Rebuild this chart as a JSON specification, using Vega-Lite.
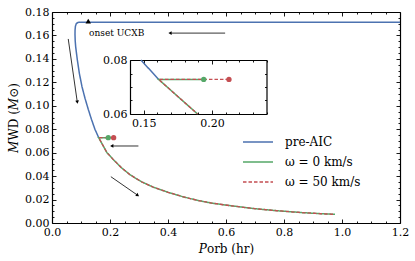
{
  "$schema": "https://vega.github.io/schema/vega-lite/v6.json",
  "width": 348,
  "height": 211,
  "autosize": "none",
  "padding": {"left": 52, "top": 12, "right": 15, "bottom": 38},
  "config": {
    "view": {"stroke": null},
    "font": "DejaVu Serif",
    "axis": {
      "grid": false,
      "labelFont": "DejaVu Serif",
      "titleFont": "DejaVu Serif",
      "labelFontSize": 11,
      "labelColor": "black",
      "titleColor": "black",
      "tickColor": "black",
      "domainColor": "black",
      "domainWidth": 1.2,
      "tickWidth": 0.9,
      "labelFlush": false,
      "labelOverlap": false,
      "labelBound": false,
      "titleFontWeight": "normal",
      "titleFontSize": 12
    }
  },
  "datasets": {
    "curves": [
      {"s": "pre-AIC", "i": 0, "p": 1.2, "m": 0.1713},
      {"s": "pre-AIC", "i": 1, "p": 0.6, "m": 0.1713},
      {"s": "pre-AIC", "i": 2, "p": 0.1, "m": 0.1713},
      {"s": "pre-AIC", "i": 3, "p": 0.09, "m": 0.1711},
      {"s": "pre-AIC", "i": 4, "p": 0.084, "m": 0.1702},
      {"s": "pre-AIC", "i": 5, "p": 0.0808, "m": 0.168},
      {"s": "pre-AIC", "i": 6, "p": 0.0795, "m": 0.1645},
      {"s": "pre-AIC", "i": 7, "p": 0.0793, "m": 0.161},
      {"s": "pre-AIC", "i": 8, "p": 0.08, "m": 0.1555},
      {"s": "pre-AIC", "i": 9, "p": 0.0816, "m": 0.1505},
      {"s": "pre-AIC", "i": 10, "p": 0.0874, "m": 0.139},
      {"s": "pre-AIC", "i": 11, "p": 0.0943, "m": 0.1277},
      {"s": "pre-AIC", "i": 12, "p": 0.1034, "m": 0.1163},
      {"s": "pre-AIC", "i": 13, "p": 0.1138, "m": 0.1064},
      {"s": "pre-AIC", "i": 14, "p": 0.125, "m": 0.097},
      {"s": "pre-AIC", "i": 15, "p": 0.136, "m": 0.0885},
      {"s": "pre-AIC", "i": 16, "p": 0.148, "m": 0.08},
      {"s": "pre-AIC", "i": 17, "p": 0.161, "m": 0.0728},
      {"s": "ω = 0 km/s", "i": 0, "p": 0.194, "m": 0.0728},
      {"s": "ω = 0 km/s", "i": 1, "p": 0.161, "m": 0.0728},
      {"s": "ω = 0 km/s", "i": 2, "p": 0.175, "m": 0.0665},
      {"s": "ω = 0 km/s", "i": 3, "p": 0.1895, "m": 0.06},
      {"s": "ω = 0 km/s", "i": 4, "p": 0.21, "m": 0.0545},
      {"s": "ω = 0 km/s", "i": 5, "p": 0.24, "m": 0.047},
      {"s": "ω = 0 km/s", "i": 6, "p": 0.27, "m": 0.041},
      {"s": "ω = 0 km/s", "i": 7, "p": 0.31, "m": 0.035},
      {"s": "ω = 0 km/s", "i": 8, "p": 0.35, "m": 0.0305},
      {"s": "ω = 0 km/s", "i": 9, "p": 0.4, "m": 0.0262},
      {"s": "ω = 0 km/s", "i": 10, "p": 0.45, "m": 0.0225},
      {"s": "ω = 0 km/s", "i": 11, "p": 0.5, "m": 0.0194},
      {"s": "ω = 0 km/s", "i": 12, "p": 0.55, "m": 0.017},
      {"s": "ω = 0 km/s", "i": 13, "p": 0.62, "m": 0.0146},
      {"s": "ω = 0 km/s", "i": 14, "p": 0.7, "m": 0.0122},
      {"s": "ω = 0 km/s", "i": 15, "p": 0.78, "m": 0.0104},
      {"s": "ω = 0 km/s", "i": 16, "p": 0.86, "m": 0.0089},
      {"s": "ω = 0 km/s", "i": 17, "p": 0.93, "m": 0.0079},
      {"s": "ω = 0 km/s", "i": 18, "p": 0.976, "m": 0.0074},
      {"s": "ω = 50 km/s", "i": 0, "p": 0.2125, "m": 0.0728},
      {"s": "ω = 50 km/s", "i": 1, "p": 0.161, "m": 0.0728},
      {"s": "ω = 50 km/s", "i": 2, "p": 0.175, "m": 0.0665},
      {"s": "ω = 50 km/s", "i": 3, "p": 0.1895, "m": 0.06},
      {"s": "ω = 50 km/s", "i": 4, "p": 0.21, "m": 0.0545},
      {"s": "ω = 50 km/s", "i": 5, "p": 0.24, "m": 0.047},
      {"s": "ω = 50 km/s", "i": 6, "p": 0.27, "m": 0.041},
      {"s": "ω = 50 km/s", "i": 7, "p": 0.31, "m": 0.035},
      {"s": "ω = 50 km/s", "i": 8, "p": 0.35, "m": 0.0305},
      {"s": "ω = 50 km/s", "i": 9, "p": 0.4, "m": 0.0262},
      {"s": "ω = 50 km/s", "i": 10, "p": 0.45, "m": 0.0225},
      {"s": "ω = 50 km/s", "i": 11, "p": 0.5, "m": 0.0194},
      {"s": "ω = 50 km/s", "i": 12, "p": 0.55, "m": 0.017},
      {"s": "ω = 50 km/s", "i": 13, "p": 0.62, "m": 0.0146},
      {"s": "ω = 50 km/s", "i": 14, "p": 0.7, "m": 0.0122},
      {"s": "ω = 50 km/s", "i": 15, "p": 0.78, "m": 0.0104},
      {"s": "ω = 50 km/s", "i": 16, "p": 0.86, "m": 0.0089},
      {"s": "ω = 50 km/s", "i": 17, "p": 0.93, "m": 0.0079},
      {"s": "ω = 50 km/s", "i": 18, "p": 0.976, "m": 0.0074}
    ],
    "dots": [
      {"s": "ω = 0 km/s", "p": 0.194, "m": 0.0728},
      {"s": "ω = 50 km/s", "p": 0.2125, "m": 0.0728}
    ],
    "arrows": [
      {"id": 1, "p": 0.597, "m": 0.162, "p2": 0.407, "m2": 0.162},
      {"id": 2, "p": 0.056, "m": 0.157, "p2": 0.087, "m2": 0.1035},
      {"id": 3, "p": 0.298, "m": 0.0657, "p2": 0.206, "m2": 0.0657},
      {"id": 4, "p": 0.203, "m": 0.0395, "p2": 0.294, "m2": 0.0239}
    ],
    "onset": [{"p": 0.125, "m": 0.1722, "p2": 0.128, "m2": 0.1625, "label": "onset UCXB"}]
  },
  "layer": [
    {
      "layer": [
        {
          "data": {"name": "curves"},
          "transform": [{"filter": "datum.s == 'pre-AIC'"}],
          "mark": {"type": "line", "strokeWidth": 1.5},
          "encoding": {
            "x": {"field": "p", "type": "quantitative",
              "scale": {"domain": [0, 1.2], "nice": false, "zero": false},
              "axis": {"orient": "bottom", "title": "𝑃orb (hr)", "titlePadding": 4, "format": ".1f",
                "values": [0,0.05,0.1,0.15,0.2,0.25,0.3,0.35,0.4,0.45,0.5,0.55,0.6,0.65,0.7,0.75,0.8,0.85,0.9,0.95,1,1.05,1.1,1.15,1.2],
                "labelExpr": "abs(datum.value*5 - round(datum.value*5)) < 0.001 ? datum.label : ''",
                "tickSize": {"condition": {"test": "abs(datum.value*5 - round(datum.value*5)) < 0.001", "value": -4}, "value": -2},
                "labelPadding": 7}},
            "y": {"field": "m", "type": "quantitative",
              "scale": {"domain": [0, 0.18], "nice": false, "zero": false},
              "axis": {"orient": "left", "title": "𝑀WD (𝑀⊙)", "titlePadding": 4, "format": ".2f",
                "values": [0,0.005,0.01,0.015,0.02,0.025,0.03,0.035,0.04,0.045,0.05,0.055,0.06,0.065,0.07,0.075,0.08,0.085,0.09,0.095,0.1,0.105,0.11,0.115,0.12,0.125,0.13,0.135,0.14,0.145,0.15,0.155,0.16,0.165,0.17,0.175,0.18],
                "labelExpr": "abs(datum.value*50 - round(datum.value*50)) < 0.001 ? datum.label : ''",
                "tickSize": {"condition": {"test": "abs(datum.value*50 - round(datum.value*50)) < 0.001", "value": -4}, "value": -2},
                "labelPadding": 7}},
            "order": {"field": "i", "type": "quantitative"},
            "color": {"field": "s", "type": "nominal",
              "scale": {"domain": ["pre-AIC", "ω = 0 km/s", "ω = 50 km/s"], "range": ["#4c72b0", "#55a868", "#c44e52"]},
              "legend": {"orient": "none", "legendX": 200, "legendY": 124, "title": null, "padding": 0,
                "symbolType": "M-3,0H3", "symbolSize": 100, "symbolStrokeWidth": 1.5,
                "labelFont": "DejaVu Serif", "labelFontSize": 12, "labelColor": "black", "labelOffset": 21, "rowPadding": 8}},
            "strokeDash": {"field": "s", "type": "nominal",
              "scale": {"domain": ["pre-AIC", "ω = 0 km/s", "ω = 50 km/s"], "range": [[1, 0], [1, 0], [3.5, 2]]},
              "legend": {"orient": "none", "legendX": 200, "legendY": 124, "title": null, "padding": 0,
                "symbolType": "M-3,0H3", "symbolSize": 100, "symbolStrokeWidth": 1.5,
                "labelFont": "DejaVu Serif", "labelFontSize": 12, "labelColor": "black", "labelOffset": 21, "rowPadding": 8}}
          }
        },
        {
          "data": {"name": "curves"},
          "transform": [{"filter": "datum.s == 'ω = 0 km/s'"}],
          "mark": {"type": "line", "strokeWidth": 1.5},
          "encoding": {
            "x": {"field": "p", "type": "quantitative", "axis": null},
            "y": {"field": "m", "type": "quantitative", "axis": null},
            "order": {"field": "i", "type": "quantitative"},
            "color": {"field": "s", "type": "nominal"},
            "strokeDash": {"field": "s", "type": "nominal"}
          }
        },
        {
          "data": {"name": "curves"},
          "transform": [{"filter": "datum.s == 'ω = 50 km/s'"}],
          "mark": {"type": "line", "strokeWidth": 1.3},
          "encoding": {
            "x": {"field": "p", "type": "quantitative", "axis": null},
            "y": {"field": "m", "type": "quantitative", "axis": null},
            "order": {"field": "i", "type": "quantitative"},
            "color": {"field": "s", "type": "nominal"},
            "strokeDash": {"field": "s", "type": "nominal"}
          }
        },
        {
          "data": {"name": "dots"},
          "mark": {"type": "point", "filled": true, "size": 28, "opacity": 1},
          "encoding": {
            "x": {"field": "p", "type": "quantitative", "axis": null},
            "y": {"field": "m", "type": "quantitative", "axis": null},
            "color": {"field": "s", "type": "nominal"}
          }
        },
        {
          "data": {"name": "arrows"},
          "mark": {"type": "rule", "color": "black", "strokeWidth": 0.8},
          "encoding": {
            "x": {"field": "p", "type": "quantitative", "axis": null},
            "y": {"field": "m", "type": "quantitative", "axis": null},
            "x2": {"field": "p2"},
            "y2": {"field": "m2"}
          }
        },
        {
          "data": {"name": "arrows"},
          "transform": [{"filter": "datum.id == 1 || datum.id == 3"}],
          "mark": {"type": "point", "shape": "triangle-left", "filled": true, "color": "black", "size": 14, "opacity": 1},
          "encoding": {
            "x": {"field": "p2", "type": "quantitative", "axis": null},
            "y": {"field": "m2", "type": "quantitative", "axis": null}
          }
        },
        {
          "data": {"name": "arrows"},
          "transform": [{"filter": "datum.id == 2"}],
          "mark": {"type": "point", "shape": "triangle", "angle": 172, "filled": true, "color": "black", "size": 14, "opacity": 1},
          "encoding": {
            "x": {"field": "p2", "type": "quantitative", "axis": null},
            "y": {"field": "m2", "type": "quantitative", "axis": null}
          }
        },
        {
          "data": {"name": "arrows"},
          "transform": [{"filter": "datum.id == 4"}],
          "mark": {"type": "point", "shape": "triangle", "angle": 125, "filled": true, "color": "black", "size": 14, "opacity": 1},
          "encoding": {
            "x": {"field": "p2", "type": "quantitative", "axis": null},
            "y": {"field": "m2", "type": "quantitative", "axis": null}
          }
        },
        {
          "data": {"name": "onset"},
          "mark": {"type": "point", "shape": "triangle-up", "filled": true, "color": "black", "size": 30, "opacity": 1},
          "encoding": {
            "x": {"field": "p", "type": "quantitative", "axis": null},
            "y": {"field": "m", "type": "quantitative", "axis": null}
          }
        },
        {
          "data": {"name": "onset"},
          "mark": {"type": "text", "align": "left", "baseline": "middle", "font": "DejaVu Serif", "fontSize": 9, "color": "black"},
          "encoding": {
            "x": {"field": "p2", "type": "quantitative", "axis": null},
            "y": {"field": "m2", "type": "quantitative", "axis": null},
            "text": {"field": "label"}
          }
        },
        {
          "data": {"name": "dots"},
          "mark": {"type": "point", "opacity": 0},
          "encoding": {
            "x": {"field": "p", "type": "quantitative",
              "axis": {"orient": "top", "title": null, "labels": false,
                "values": [0,0.05,0.1,0.15,0.2,0.25,0.3,0.35,0.4,0.45,0.5,0.55,0.6,0.65,0.7,0.75,0.8,0.85,0.9,0.95,1,1.05,1.1,1.15,1.2],
                "tickSize": {"condition": {"test": "abs(datum.value*5 - round(datum.value*5)) < 0.001", "value": -4}, "value": -2}}},
            "y": {"field": "m", "type": "quantitative",
              "axis": {"orient": "right", "title": null, "labels": false,
                "values": [0,0.005,0.01,0.015,0.02,0.025,0.03,0.035,0.04,0.045,0.05,0.055,0.06,0.065,0.07,0.075,0.08,0.085,0.09,0.095,0.1,0.105,0.11,0.115,0.12,0.125,0.13,0.135,0.14,0.145,0.15,0.155,0.16,0.165,0.17,0.175,0.18],
                "tickSize": {"condition": {"test": "abs(datum.value*50 - round(datum.value*50)) < 0.001", "value": -4}, "value": -2}}}
          }
        }
      ],
      "resolve": {"scale": {"x": "shared", "y": "shared"}, "axis": {"x": "independent", "y": "independent"}}
    },
    {
      "layer": [
        {
          "data": {"name": "curves"},
          "transform": [{"filter": "datum.s == 'pre-AIC' && datum.m >= 0.05999 && datum.m <= 0.08001 && datum.p >= 0.14 && datum.p <= 0.24"}],
          "mark": {"type": "line", "strokeWidth": 1.5},
          "encoding": {
            "x": {"field": "p", "type": "quantitative",
              "scale": {"domain": [0.14, 0.24], "range": [78, 214.5], "nice": false, "zero": false},
              "axis": {"orient": "bottom", "offset": -109, "title": null, "format": ".2f",
                "values": [0.14,0.15,0.16,0.17,0.18,0.19,0.2,0.21,0.22,0.23,0.24],
                "labelExpr": "abs(datum.value*20 - round(datum.value*20)) < 0.001 ? datum.label : ''",
                "tickSize": {"condition": {"test": "abs(datum.value*20 - round(datum.value*20)) < 0.001", "value": -4}, "value": -2},
                "labelPadding": 7}},
            "y": {"field": "m", "type": "quantitative",
              "scale": {"domain": [0.06, 0.08], "range": [102, 48], "nice": false, "zero": false},
              "axis": {"orient": "left", "offset": -78, "title": null, "format": ".2f",
                "values": [0.06,0.065,0.07,0.075,0.08],
                "labelExpr": "abs(datum.value*50 - round(datum.value*50)) < 0.001 ? datum.label : ''",
                "tickSize": {"condition": {"test": "abs(datum.value*50 - round(datum.value*50)) < 0.001", "value": -4}, "value": -2},
                "labelPadding": 7}},
            "order": {"field": "i", "type": "quantitative"},
            "color": {"field": "s", "type": "nominal"},
            "strokeDash": {"field": "s", "type": "nominal"}
          }
        },
        {
          "data": {"name": "curves"},
          "transform": [{"filter": "datum.s == 'ω = 0 km/s' && datum.m >= 0.05999 && datum.m <= 0.08001 && datum.p >= 0.14 && datum.p <= 0.24"}],
          "mark": {"type": "line", "strokeWidth": 1.5},
          "encoding": {
            "x": {"field": "p", "type": "quantitative", "axis": null},
            "y": {"field": "m", "type": "quantitative", "axis": null},
            "order": {"field": "i", "type": "quantitative"},
            "color": {"field": "s", "type": "nominal"},
            "strokeDash": {"field": "s", "type": "nominal"}
          }
        },
        {
          "data": {"name": "curves"},
          "transform": [{"filter": "datum.s == 'ω = 50 km/s' && datum.m >= 0.05999 && datum.m <= 0.08001 && datum.p >= 0.14 && datum.p <= 0.24"}],
          "mark": {"type": "line", "strokeWidth": 1.3},
          "encoding": {
            "x": {"field": "p", "type": "quantitative", "axis": null},
            "y": {"field": "m", "type": "quantitative", "axis": null},
            "order": {"field": "i", "type": "quantitative"},
            "color": {"field": "s", "type": "nominal"},
            "strokeDash": {"field": "s", "type": "nominal"}
          }
        },
        {
          "data": {"name": "dots"},
          "mark": {"type": "point", "filled": true, "size": 28, "opacity": 1},
          "encoding": {
            "x": {"field": "p", "type": "quantitative", "axis": null},
            "y": {"field": "m", "type": "quantitative", "axis": null},
            "color": {"field": "s", "type": "nominal"}
          }
        },
        {
          "data": {"name": "dots"},
          "mark": {"type": "point", "opacity": 0},
          "encoding": {
            "x": {"field": "p", "type": "quantitative",
              "axis": {"orient": "top", "offset": -48, "title": null, "labels": false,
                "values": [0.14,0.15,0.16,0.17,0.18,0.19,0.2,0.21,0.22,0.23,0.24],
                "tickSize": {"condition": {"test": "abs(datum.value*20 - round(datum.value*20)) < 0.001", "value": -4}, "value": -2}}},
            "y": {"field": "m", "type": "quantitative",
              "axis": {"orient": "right", "offset": -133.5, "title": null, "labels": false,
                "values": [0.06,0.065,0.07,0.075,0.08],
                "tickSize": {"condition": {"test": "abs(datum.value*50 - round(datum.value*50)) < 0.001", "value": -4}, "value": -2}}}
          }
        }
      ],
      "resolve": {"scale": {"x": "shared", "y": "shared"}, "axis": {"x": "independent", "y": "independent"}}
    }
  ],
  "resolve": {"scale": {"x": "independent", "y": "independent"}}
}
